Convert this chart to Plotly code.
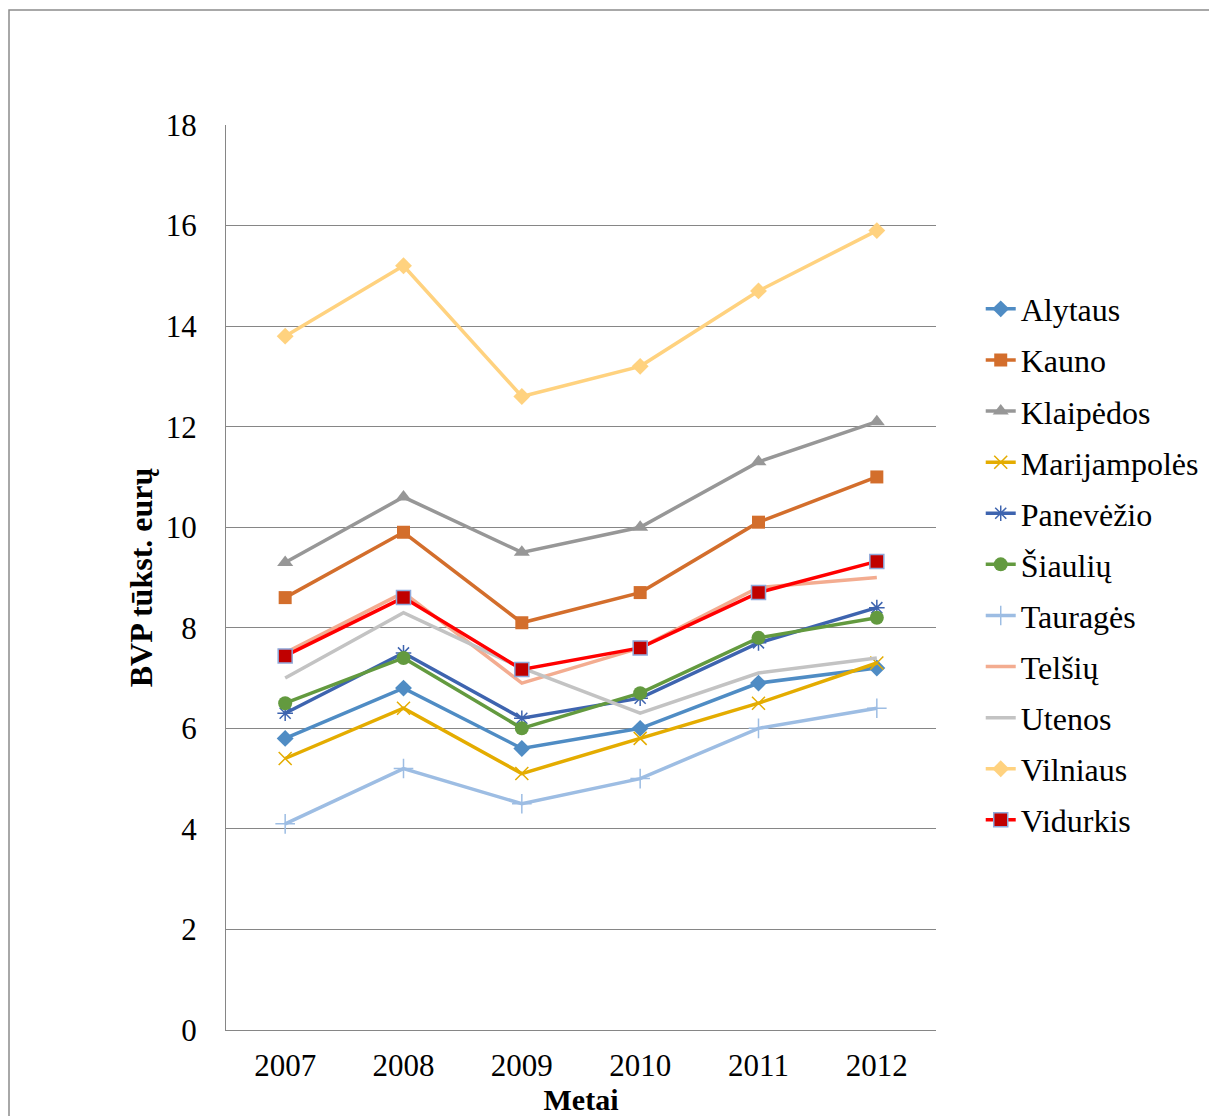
import plotly.graph_objects as go

years = ["2007", "2008", "2009", "2010", "2011", "2012"]

alytaus = [5.8, 6.8, 5.6, 6.0, 6.9, 7.2]
kauno = [8.6, 9.9, 8.1, 8.7, 10.1, 11.0]
klaipedos = [9.3, 10.6, 9.5, 10.0, 11.3, 12.1]
marijampoles = [5.4, 6.4, 5.1, 5.8, 6.5, 7.3]
panevezio = [6.3, 7.5, 6.2, 6.6, 7.7, 8.4]
siauliu = [6.5, 7.4, 6.0, 6.7, 7.8, 8.2]
taurages = [4.1, 5.2, 4.5, 5.0, 6.0, 6.4]
telsiu = [7.5, 8.7, 6.9, 7.6, 8.8, 9.0]
utenos = [7.0, 8.3, 7.2, 6.3, 7.1, 7.4]
vilniaus = [13.8, 15.2, 12.6, 13.2, 14.7, 15.9]
vidurkis = [7.44, 8.6, 7.17, 7.6, 8.7, 9.32]

yticks = [0, 2, 4, 6, 8, 10, 12, 14, 16, 18]

series = [
    ("Alytaus", alytaus, "#4F8CC4", "diamond", 13, None),
    ("Kauno", kauno, "#D36E2C", "square", 13, None),
    ("Klaipėdos", klaipedos, "#979797", "triangle-up", 14, None),
    ("Marijampolės", marijampoles, "#E4AC00", "x-thin-open", 13, None),
    ("Panevėžio", panevezio, "#3E64AF", "asterisk-open", 13, None),
    ("Šiaulių", siauliu, "#639A3F", "circle", 14, None),
    ("Tauragės", taurages, "#9DBDE3", "cross-thin-open", 14, None),
    ("Telšių", telsiu, "#F3AC90", None, 0, None),
    ("Utenos", utenos, "#C3C3C3", None, 0, None),
    ("Vilniaus", vilniaus, "#FFD27F", "diamond", 13, None),
    ("Vidurkis", vidurkis, "#FF0000", "square", 14, "#C00000"),
]

font = "Liberation Serif"

fig = go.Figure()
for name, vals, color, symbol, size, fill in series:
    if symbol is None:
        marker = dict(size=0, opacity=0)
        mode = "lines"
    elif fill:
        marker = dict(symbol=symbol, size=size, color=fill,
                      line=dict(color="#8EA9DB", width=1.5))
        mode = "lines+markers"
    elif symbol.endswith("-open"):
        marker = dict(symbol=symbol, size=size, color=color,
                      line=dict(color=color, width=1.5))
        mode = "lines+markers"
    else:
        marker = dict(symbol=symbol, size=size, color=color)
        mode = "lines+markers"
    fig.add_trace(go.Scatter(x=years, y=vals, name=name, mode=mode,
                             line=dict(color=color, width=3.5),
                             marker=marker, legendgroup=name))

# outer chart border (page body adds 8px offset)
fig.add_shape(type="rect", xref="paper", yref="paper",
              x0=(9 - 226) / 710, x1=1.6,
              y0=-0.2, y1=1 + (125 - 10) / 905,
              line=dict(color="#8C8C8C", width=1.5), layer="below")

fig.update_layout(
    width=1217, height=1116,
    margin=dict(l=218, r=289, t=117, b=94),
    paper_bgcolor="white", plot_bgcolor="white",
    font=dict(family=font, size=31, color="black"),
    showlegend=True,
    legend=dict(x=1.063, xanchor="left", y=0.827, yanchor="top",
                font=dict(size=32), tracegroupgap=6.5,
                bgcolor="rgba(0,0,0,0)"),
    xaxis=dict(type="category", range=[-0.5, 5.5], showgrid=False,
               showline=True, linecolor="#868686", linewidth=1,
               ticks="", ticklabelstandoff=8,
               title=dict(text="<b>Metai</b>", standoff=0,
                          font=dict(size=30))),
    yaxis=dict(range=[0, 18], tickvals=yticks, showgrid=True,
               gridcolor="#868686", gridwidth=1, zeroline=False,
               showline=True, linecolor="#868686", linewidth=1,
               ticks="", ticklabelstandoff=22,
               title=dict(text="<b>BVP tūkst. eurų</b>", standoff=3,
                          font=dict(size=32))),
)

fig.write_html("out.html")
